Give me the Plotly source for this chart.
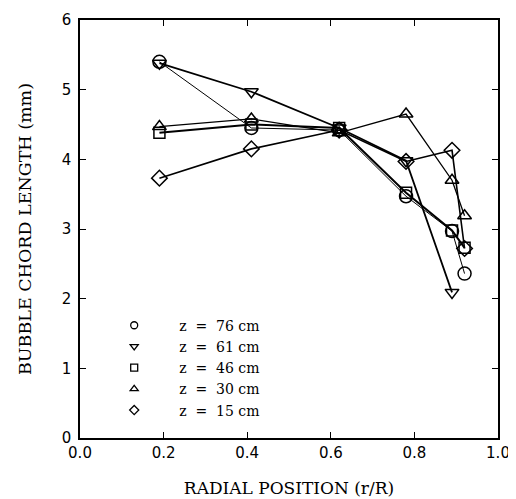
import plotly.graph_objects as go

x_pos = [0.19, 0.41, 0.62, 0.78, 0.89, 0.92]

z76 = [5.40, 4.45, 4.42, 3.47, 2.97, 2.36]
z61 = [5.38, 4.97, 4.45, 3.98, 2.09]
z46 = [4.38, 4.50, 4.45, 3.52, 2.98, 2.73]
z30 = [4.47, 4.58, 4.38, 4.65, 3.70, 3.19]
z15 = [3.73, 4.15, 4.42, 3.97, 4.13, 2.72]

labels = ["z = 76 cm", "z = 61 cm", "z = 46 cm", "z = 30 cm", "z = 15 cm"]
series = [z76, z61, z46, z30, z15]
symbols = ["circle-open", "triangle-down-open", "square-open", "triangle-up-open", "diamond-open"]
widths = [1.0, 1.8, 2.0, 1.3, 1.6]
sizes = [13, 12, 11, 12, 12]

fig = go.Figure()
for lab, ys, sym, w, s in zip(labels, series, symbols, widths, sizes):
    fig.add_trace(go.Scatter(
        x=x_pos[:len(ys)], y=ys, mode="lines+markers",
        line=dict(color="black", width=w),
        marker=dict(symbol=sym, size=s, color="black", line=dict(color="black", width=1.5)),
        showlegend=False,
    ))
for lab, sym in zip(labels, symbols):
    fig.add_trace(go.Scatter(
        x=[None], y=[None], mode="markers", name=lab.replace(" ", "\u00a0\u00a0").replace("\u00a0\u00a0cm", "\u00a0cm"),
        marker=dict(symbol=sym, size=7, color="black", line=dict(color="black", width=1.3)),
    ))

fig.update_layout(
    width=508, height=491,
    margin=dict(l=72, r=18, t=12, b=61),
    plot_bgcolor="white", paper_bgcolor="white",
    showlegend=True,
    legend=dict(x=0.022, y=0.307, xanchor="left", yanchor="top",
                font=dict(family="DejaVu Serif", size=14, color="black"),
                bgcolor="rgba(0,0,0,0)", tracegroupgap=0, itemwidth=80),
    font=dict(family="DejaVu Sans", color="black"),
)
fig.update_xaxes(
    range=[0, 1], tickvals=[0, 0.2, 0.4, 0.6, 0.8, 1.0], ticktext=["0.0", "0.2", "0.4", "0.6", "0.8", "1.0"],
    ticks="inside", ticklen=6, tickwidth=1.2, tickcolor="black", mirror="ticks",
    showline=True, linecolor="black", linewidth=1.5, showgrid=False, zeroline=False,
    tickfont=dict(family="DejaVu Sans", size=15), automargin=False,
    title=dict(text="RADIAL POSITION (r/R)", font=dict(family="DejaVu Serif", size=17), standoff=21),
)
fig.update_yaxes(
    range=[0, 6], tickvals=[0, 1, 2, 3, 4, 5, 6],
    ticks="inside", ticklen=6, tickwidth=1.2, tickcolor="black", mirror="ticks",
    showline=True, linecolor="black", linewidth=1.5, showgrid=False, zeroline=False,
    tickfont=dict(family="DejaVu Sans", size=15), automargin=False, ticklabelstandoff=4,
    title=dict(text="BUBBLE CHORD LENGTH (mm)", font=dict(family="DejaVu Serif", size=17.5), standoff=26),
)

fig.write_html("out.html")
